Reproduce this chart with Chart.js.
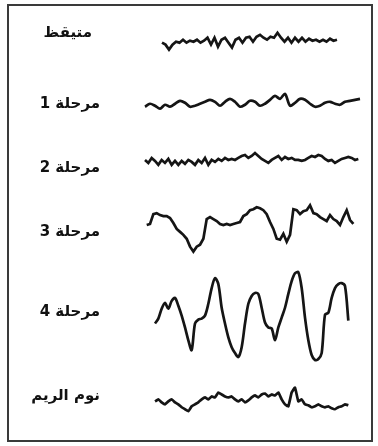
<!DOCTYPE html>
<html>
<head>
<meta charset="utf-8">
<script src="https://cdn.jsdelivr.net/npm/chart.js@4/dist/chart.umd.min.js"></script>
<style>
html,body{margin:0;padding:0;background:#fff;}
#wrap{position:relative;width:378px;height:446px;}
#frame{position:absolute;left:7px;top:4px;width:366px;height:438px;border:2px solid #3a3a3a;box-sizing:border-box;pointer-events:none;}
canvas{direction:rtl;}
</style>
</head>
<body>
<div id="wrap">
<canvas id="eeg" width="378" height="446"></canvas>
<div id="frame"></div>
</div>
<script>
// stage names, top to bottom
var stages = ['متيقظ', 'مرحلة 1', 'مرحلة 2', 'مرحلة 3', 'مرحلة 4', 'نوم الريم'];

// traces (deflection, up = positive)
var awake = [-10,-12,-17,-12,-9,-10,-7,-10,-8,-9,-7,-10,-8,-5,-12,-5,-14,-7,-5,-10,-15,-7,-5,-10,-5,-4,-9,-4,-2,-5,-7,-4,-5,0,-5,-9,-5,-10,-5,-9,-5,-9,-6,-8,-7,-9,-7,-9,-6,-8,-7];
var stage1 = [-3,0,-2,-5,-1,-3,0,3,1,-3,-2,0,2,4,2,-2,2,5,2,-3,-1,3,2,-2,0,4,8,5,10,-2,1,5,4,0,-3,-2,1,2,0,-1,2,3,4,5];
var stage2 = [8,5,10,7,3,8,5,9,3,7,3,7,4,8,6,3,8,5,10,3,8,6,9,7,10,8,9,8,10,12,13,10,12,15,12,9,7,5,8,10,12,8,11,9,10,8,8,7,8,10,12,11,13,12,9,7,8,5,7,9,10,11,10,8,9];
var stage3 = [7,8,18,19,17,16,16,14,9,3,0,-3,-7,-15,-20,-15,-13,-7,13,15,13,11,8,7,8,7,8,9,10,16,18,22,23,25,24,22,18,10,3,-7,-8,-2,-10,-3,23,22,18,21,22,27,19,18,15,13,11,17,13,11,7,15,22,12,8];
var stage4 = [-12,-7,3,9,3,11,14,6,-4,-16,-29,-39,-12,-8,-7,-4,8,24,34,28,4,-12,-26,-36,-42,-46,-36,-12,8,16,19,18,4,-11,-16,-17,-29,-16,-6,4,18,31,39,40,24,-6,-29,-44,-49,-48,-42,-3,-1,14,24,28,29,26,-9];
var rem = [-5,-3,-6,-8,-5,-3,-6,-8,-11,-13,-15,-10,-8,-6,-3,-1,-3,0,-1,4,2,0,-1,0,-3,-5,-3,-6,-4,-1,1,-1,2,3,0,2,1,4,-3,-8,-10,4,9,-5,-3,-8,-9,-11,-10,-8,-10,-11,-10,-12,-13,-11,-10,-8,-9];

// time of first sample and sample spacing per trace
var starts = [17, 0, 0, 1.7, 10, 10];
var steps = [3.5, 5, 10/3, 10/3, 10/3, 10/3];

// y range of each stacked trace axis
var axisTop = [13, 36, 33, 33, 41, 43];
var axisBottom = [-36, -32, -32, -40, -43, -30];

var traces = [awake, stage1, stage2, stage3, stage4, rem];
var tension = [0, 0.3, 0, 0, 0.3, 0.1];

var datasets = traces.map(function(vals, i){
    return {
        label: stages[i],
        yAxisID: 'y' + i,
        data: vals.map(function(v, k){ return {x: starts[i] + k * steps[i], y: v}; }),
        borderColor: '#151515',
        borderWidth: 2.7,
        pointRadius: 0,
        tension: tension[i],
        clip: false
    };
});

var scales = {
    x: {type: 'linear', min: 0, max: 215, display: false}
};
// left stacked axes are laid out last-first, so add them bottom to top
for (var i = stages.length - 1; i >= 0; i--) {
    (function(i){
        scales['y' + i] = {
            type: 'linear',
            position: 'left',
            stack: 'eeg',
            stackWeight: axisTop[i] - axisBottom[i],
            min: axisBottom[i],
            max: axisTop[i],
            grid: {display: true, drawOnChartArea: false, drawTicks: true, tickLength: 42, color: 'rgba(0,0,0,0)'},
            border: {display: false},
            afterBuildTicks: function(scale){ scale.ticks = [{value: 0}]; },
            afterFit: function(scale){ scale.width = 135; },
            ticks: {
                padding: i === 0 ? 11 : 3,
                color: '#111',
                font: {family: "'DejaVu Sans', sans-serif", size: 15, weight: 'bold'},
                callback: function(){ return stages[i]; }
            }
        };
    })(i);
}

new Chart(document.getElementById('eeg'), {
    type: 'line',
    data: {datasets: datasets},
    options: {
        responsive: false,
        animation: false,
        layout: {padding: {left: 10, right: 18, top: 20, bottom: 14}},
        plugins: {legend: {display: false}, tooltip: {enabled: false}},
        scales: scales
    }
});
</script>
</body>
</html>
